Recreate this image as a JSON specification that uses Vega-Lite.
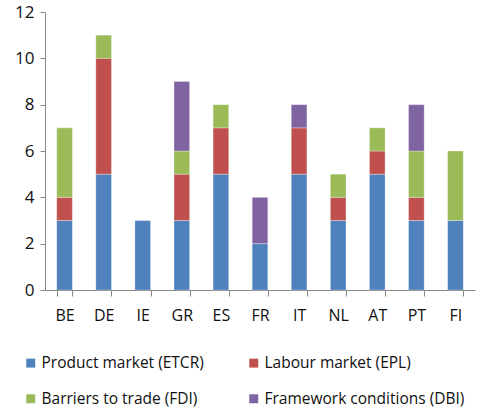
{
  "$schema": "https://vega.github.io/schema/vega-lite/v6.json",
  "width": 430,
  "height": 278,
  "autosize": {"type": "none"},
  "padding": {"left": 45, "top": 12, "right": 3, "bottom": 120},
  "background": "white",
  "config": {"view": {"stroke": null}, "font": "Open Sans"},
  "data": {"values": [
    {"c": "BE", "s": "Product market (ETCR)", "v": 3},
    {"c": "BE", "s": "Labour market (EPL)", "v": 1},
    {"c": "BE", "s": "Barriers to trade (FDI)", "v": 3},
    {"c": "DE", "s": "Product market (ETCR)", "v": 5},
    {"c": "DE", "s": "Labour market (EPL)", "v": 5},
    {"c": "DE", "s": "Barriers to trade (FDI)", "v": 1},
    {"c": "IE", "s": "Product market (ETCR)", "v": 3},
    {"c": "GR", "s": "Product market (ETCR)", "v": 3},
    {"c": "GR", "s": "Labour market (EPL)", "v": 2},
    {"c": "GR", "s": "Barriers to trade (FDI)", "v": 1},
    {"c": "GR", "s": "Framework conditions (DBI)", "v": 3},
    {"c": "ES", "s": "Product market (ETCR)", "v": 5},
    {"c": "ES", "s": "Labour market (EPL)", "v": 2},
    {"c": "ES", "s": "Barriers to trade (FDI)", "v": 1},
    {"c": "FR", "s": "Product market (ETCR)", "v": 2},
    {"c": "FR", "s": "Framework conditions (DBI)", "v": 2},
    {"c": "IT", "s": "Product market (ETCR)", "v": 5},
    {"c": "IT", "s": "Labour market (EPL)", "v": 2},
    {"c": "IT", "s": "Framework conditions (DBI)", "v": 1},
    {"c": "NL", "s": "Product market (ETCR)", "v": 3},
    {"c": "NL", "s": "Labour market (EPL)", "v": 1},
    {"c": "NL", "s": "Barriers to trade (FDI)", "v": 1},
    {"c": "AT", "s": "Product market (ETCR)", "v": 5},
    {"c": "AT", "s": "Labour market (EPL)", "v": 1},
    {"c": "AT", "s": "Barriers to trade (FDI)", "v": 1},
    {"c": "PT", "s": "Product market (ETCR)", "v": 3},
    {"c": "PT", "s": "Labour market (EPL)", "v": 1},
    {"c": "PT", "s": "Barriers to trade (FDI)", "v": 2},
    {"c": "PT", "s": "Framework conditions (DBI)", "v": 2},
    {"c": "FI", "s": "Product market (ETCR)", "v": 3},
    {"c": "FI", "s": "Barriers to trade (FDI)", "v": 3}
  ]},
  "transform": [
    {"calculate": "indexof(['Product market (ETCR)','Labour market (EPL)','Barriers to trade (FDI)','Framework conditions (DBI)'], datum.s)", "as": "k"}
  ],
  "mark": {"type": "bar", "stroke": "#ffffff", "strokeOpacity": 0.5, "strokeWidth": 0.6},
  "encoding": {
    "x": {
      "field": "c", "type": "nominal", "sort": null,
      "scale": {"paddingInner": 0.6, "paddingOuter": 0.3},
      "axis": {
        "title": null, "labelAngle": 0, "labelFontSize": 16, "labelColor": "#111",
        "labelPadding": 11, "tickBand": "extent", "tickSize": 6,
        "domainColor": "#888", "tickColor": "#888", "grid": false
      }
    },
    "y": {
      "field": "v", "type": "quantitative", "stack": "zero",
      "scale": {"domain": [0, 12]},
      "axis": {
        "title": null, "values": [0, 2, 4, 6, 8, 10, 12], "labelFontSize": 17,
        "labelColor": "#111", "grid": false, "tickSize": 5, "labelPadding": 6,
        "domainColor": "#888", "tickColor": "#888"
      }
    },
    "color": {
      "field": "s", "type": "nominal",
      "scale": {
        "domain": ["Product market (ETCR)", "Labour market (EPL)", "Barriers to trade (FDI)", "Framework conditions (DBI)"],
        "range": ["#4F81BD", "#C0504D", "#9BBB59", "#8064A2"]
      },
      "legend": {
        "title": null, "orient": "none", "legendX": -22, "legendY": 343,
        "direction": "horizontal", "columns": 2, "columnPadding": 42, "rowPadding": 19,
        "symbolType": "square", "symbolSize": 80, "symbolStrokeWidth": 0,
        "labelFontSize": 15.5, "labelColor": "#111", "labelOffset": 3, "labelLimit": 260
      }
    },
    "order": {"field": "k", "type": "quantitative"}
  }
}
